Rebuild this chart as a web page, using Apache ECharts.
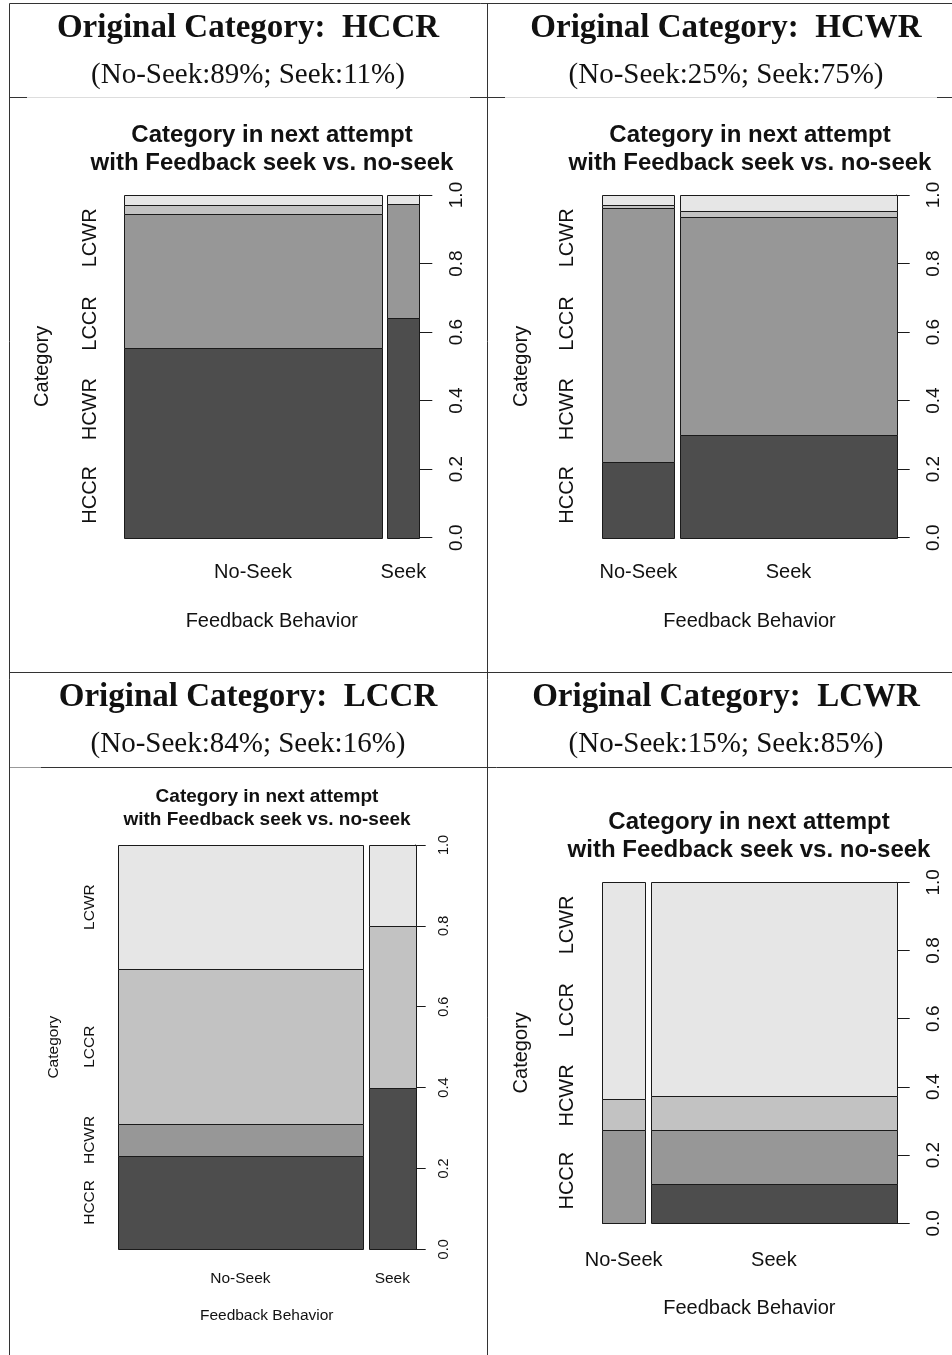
<!DOCTYPE html>
<html>
<head>
<meta charset="utf-8">
<script src="https://cdn.jsdelivr.net/npm/echarts@6/dist/echarts.min.js"></script>
<style>
  html, body { margin: 0; padding: 0; background: #ffffff; }
  #chart { width: 952px; height: 1355px; }
</style>
</head>
<body>
<div id="chart"></div>
<script>
// ---- data ----------------------------------------------------------
const originalCategories = ['HCCR', 'HCWR', 'LCCR', 'LCWR'];
const nextCategories = ['HCCR', 'HCWR', 'LCCR', 'LCWR'];
const behaviors = ['No-Seek', 'Seek'];
// share of attempts without feedback seeking, per original category
const noSeekShare = [0.89, 0.25, 0.84, 0.15];
// next-attempt category proportions (HCCR, HCWR, LCCR, LCWR) per behaviour
const hccrNoSeek = [0.555, 0.390, 0.026, 0.029];
const hccrSeek   = [0.641, 0.333, 0.000, 0.026];
const hcwrNoSeek = [0.221, 0.741, 0.008, 0.030];
const hcwrSeek   = [0.300, 0.637, 0.017, 0.046];
const lccrNoSeek = [0.232, 0.077, 0.384, 0.307];
const lccrSeek   = [0.400, 0.000, 0.400, 0.200];
const lcwrNoSeek = [0.000, 0.274, 0.091, 0.635];
const lcwrSeek   = [0.115, 0.159, 0.098, 0.628];
const valueTicks = [0, 0.2, 0.4, 0.6, 0.8, 1.0];

const panelProps = [
  [hccrNoSeek, hccrSeek],
  [hcwrNoSeek, hcwrSeek],
  [lccrNoSeek, lccrSeek],
  [lcwrNoSeek, lcwrSeek]
];

// ---- styling / layout ----------------------------------------------
const categoryFills = ['#4d4d4d', '#979797', '#c2c2c2', '#e6e6e6'];
const SANS = '"Liberation Sans", Arial, sans-serif';
const SERIF = '"Liberation Serif", "Times New Roman", serif';
const INK = '#111111';
const GAP = 0.02; // spacing between spine columns, in axis units

const panels = [
  { left: 124.3, top: 195, width: 295, height: 342.7, cx: 272, font: 20, tickFont: 19, titleFont: 24, titleY: [135, 163],
    tickLen: 13, xLabelMargin: 25, xNameGap: 74, yLabelMargin: 24, yNameGap: 72, rLabelMargin: 28 },
  { left: 602.3, top: 195, width: 294.4, height: 342.7, cx: 750, font: 20, tickFont: 19, titleFont: 24, titleY: [135, 163],
    tickLen: 13, xLabelMargin: 25, xNameGap: 74, yLabelMargin: 25, yNameGap: 71, rLabelMargin: 28 },
  { left: 117.7, top: 845, width: 298, height: 404.3, cx: 267, font: 15.5, tickFont: 14.5, titleFont: 19, titleY: [797, 820],
    tickLen: 10, xLabelMargin: 21, xNameGap: 58, yLabelMargin: 20, yNameGap: 56, rLabelMargin: 21 },
  { left: 602, top: 882.3, width: 294.7, height: 341, cx: 749, font: 20, tickFont: 19, titleFont: 24, titleY: [822, 850],
    tickLen: 13, xLabelMargin: 27, xNameGap: 75, yLabelMargin: 25, yNameGap: 71, rLabelMargin: 28 }
];
const headerCenters = [[248, 28, 75], [726, 28, 75], [248, 697, 744], [726, 697, 744]];

// ---- build chart components ----------------------------------------
const grids = [], xAxes = [], yAxes = [], series = [], graphics = [];

panels.forEach((p, i) => {
  const shares = [noSeekShare[i], 1 - noSeekShare[i]];
  const props = panelProps[i];

  // rectangles of the spine plot: [x0, x1, y0, y1, category]
  const rects = [];
  const centers = [];
  let xStart = 0;
  shares.forEach((w, j) => {
    let cum = 0;
    props[j].forEach((v, k) => {
      rects.push([xStart, xStart + w, cum, cum + v, k]);
      cum += v;
    });
    centers.push(xStart + w / 2);
    xStart += w + GAP;
  });
  const xMax = 1 + GAP * (shares.length - 1);

  // left labels: midpoints of the first column, or evenly spaced when crowded
  const first = props[0];
  let acc = 0;
  const mids = first.map(v => { const m = acc + v / 2; acc += v; return m; });
  const crowded = first.some(v => v < 0.05);
  const yLabelPos = crowded ? nextCategories.map((_, k) => (k + 0.5) / nextCategories.length) : mids;

  grids.push({ left: p.left, top: p.top, width: p.width, height: p.height, containLabel: false });

  xAxes.push({
    type: 'value', gridIndex: i, min: 0, max: xMax,
    axisLine: { show: false }, axisTick: { show: false }, splitLine: { show: false },
    axisLabel: {
      customValues: centers, margin: p.xLabelMargin, fontSize: p.font, fontFamily: SANS, color: INK,
      formatter: v => { let best = 0; centers.forEach((c, k) => { if (Math.abs(c - v) < Math.abs(centers[best] - v)) best = k; }); return behaviors[best]; }
    },
    name: 'Feedback Behavior', nameLocation: 'middle', nameGap: p.xNameGap,
    nameTextStyle: { fontSize: p.font, fontFamily: SANS, color: INK }
  });

  yAxes.push({
    type: 'value', gridIndex: i, position: 'left', min: 0, max: 1,
    axisLine: { show: false }, axisTick: { show: false }, splitLine: { show: false },
    axisLabel: {
      customValues: yLabelPos, rotate: 90, margin: p.yLabelMargin, fontSize: p.font, fontFamily: SANS, color: INK,
      formatter: v => { let best = 0; yLabelPos.forEach((c, k) => { if (Math.abs(c - v) < Math.abs(yLabelPos[best] - v)) best = k; }); return nextCategories[best]; }
    },
    name: 'Category', nameLocation: 'middle', nameGap: p.yNameGap,
    nameTextStyle: { fontSize: p.font, fontFamily: SANS, color: INK }
  });

  yAxes.push({
    type: 'value', gridIndex: i, position: 'right', min: 0, max: 1, interval: 0.2,
    axisLine: { show: true, lineStyle: { color: '#1a1a1a', width: 1 } },
    axisTick: { show: true, inside: false, length: p.tickLen, customValues: valueTicks, lineStyle: { color: '#1a1a1a', width: 1 } },
    splitLine: { show: false },
    axisLabel: {
      customValues: valueTicks, rotate: 90, margin: p.rLabelMargin, fontSize: p.tickFont, fontFamily: SANS, color: INK,
      formatter: v => v.toFixed(1)
    }
  });

  series.push({
    type: 'custom', xAxisIndex: i, yAxisIndex: 2 * i + 1, silent: true, animation: false,
    encode: { x: [0, 1], y: [2, 3] },
    data: rects,
    renderItem: (params, api) => {
      const a = api.coord([api.value(0), api.value(3)]);
      const b = api.coord([api.value(1), api.value(2)]);
      const x0 = Math.round(a[0]), y0 = Math.round(a[1]);
      const x1 = Math.round(b[0]), y1 = Math.round(b[1]);
      return {
        type: 'rect',
        shape: { x: x0 + 0.5, y: y0 + 0.5, width: x1 - x0, height: y1 - y0 },
        style: { fill: categoryFills[api.value(4)], stroke: '#1a1a1a', lineWidth: 1 }
      };
    }
  });

  // plot title
  ['Category in next attempt', 'with Feedback seek vs. no-seek'].forEach((t, r) => {
    graphics.push({
      type: 'text', x: p.cx, y: p.titleY[r], silent: true,
      style: { text: t, fontSize: p.titleFont, fontWeight: 'bold', fontFamily: SANS, fill: INK, align: 'center', verticalAlign: 'middle' }
    });
  });

  // table header for this original category
  const h = headerCenters[i];
  const pctNo = Math.round(shares[0] * 100), pctSeek = Math.round(shares[1] * 100);
  graphics.push({
    type: 'text', x: h[0], y: h[1], silent: true,
    style: { text: 'Original Category:  ' + originalCategories[i], fontSize: 33, fontWeight: 'bold', fontFamily: SERIF, fill: INK, align: 'center', verticalAlign: 'middle' }
  });
  graphics.push({
    type: 'text', x: h[0], y: h[2], silent: true,
    style: { text: '(' + behaviors[0] + ':' + pctNo + '%; ' + behaviors[1] + ':' + pctSeek + '%)', fontSize: 29, fontFamily: SERIF, fill: INK, align: 'center', verticalAlign: 'middle' }
  });
});

// table rules
const rule = (x1, y1, x2, y2, color) => ({
  type: 'line', silent: true, shape: { x1, y1, x2, y2 }, style: { stroke: color, lineWidth: 1 }
});
graphics.push(
  rule(9.5, 3.5, 952, 3.5, '#333333'),
  rule(9.5, 3.5, 9.5, 1355, '#333333'),
  rule(487.5, 3.5, 487.5, 1355, '#333333'),
  rule(10, 97.5, 952, 97.5, '#dddddd'),
  rule(10, 97.5, 27, 97.5, '#333333'),
  rule(470, 97.5, 505, 97.5, '#333333'),
  rule(937, 97.5, 952, 97.5, '#333333'),
  rule(10, 672.5, 952, 672.5, '#333333'),
  rule(10, 767.5, 41, 767.5, '#999999'),
  rule(41, 767.5, 952, 767.5, '#333333')
);

const chart = echarts.init(document.getElementById('chart'), null, { renderer: 'canvas' });
chart.setOption({
  animation: false,
  backgroundColor: '#ffffff',
  grid: grids,
  xAxis: xAxes,
  yAxis: yAxes,
  series: series,
  graphic: { elements: graphics }
});
</script>
</body>
</html>
